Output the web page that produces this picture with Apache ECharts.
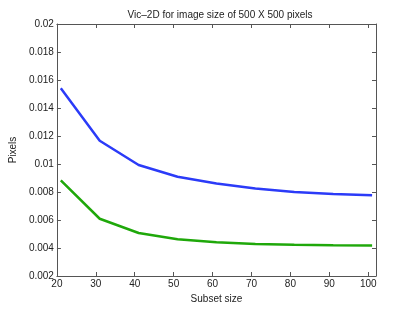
<!DOCTYPE html>
<html><head><meta charset="utf-8">
<script src="https://cdn.jsdelivr.net/npm/echarts@6/dist/echarts.min.js"></script>
<style>html,body{margin:0;padding:0;background:#fff}#c{width:415px;height:312px}</style>
</head><body><div id="c"></div>
<script>
const subsetSizes = [21, 31, 41, 51, 61, 71, 81, 91, 101];
const blueValues = [0.01541, 0.01166, 0.00993, 0.00909, 0.0086, 0.00825, 0.0080, 0.00786, 0.00777];
const greenValues = [0.00883, 0.00609, 0.00507, 0.00462, 0.00441, 0.00429, 0.00424, 0.00420, 0.00418];
const xTicks = [20, 30, 40, 50, 60, 70, 80, 90, 100];
const yTicks = [0.002, 0.004, 0.006, 0.008, 0.01, 0.012, 0.014, 0.016, 0.018, 0.02];

const font = 'Liberation Sans, Arial, sans-serif';
const axisLine = {show: true, lineStyle: {color: '#555', width: 1}};
const pairs = v => subsetSizes.map((x, i) => [x, v[i]]);
const chart = echarts.init(document.getElementById('c'), null, {renderer: 'canvas'});
chart.setOption({
  animation: false,
  backgroundColor: '#fff',
  title: {text: 'Vic\u20132D for image size of 500 X 500 pixels', left: 215, top: 5, textAlign: 'center',
    textStyle: {fontFamily: font, fontSize: 10, fontWeight: 'normal', color: '#222'}},
  grid: {left: 54, right: 39, top: 24, bottom: 36},
  xAxis: [{
    type: 'value', min: 20, max: 102, position: 'bottom',
    name: 'Subset size', nameLocation: 'middle', nameGap: 16,
    nameTextStyle: {fontFamily: font, fontSize: 10, color: '#222'},
    axisLine: axisLine, splitLine: {show: false},
    axisTick: {inside: true, length: 4, customValues: xTicks, lineStyle: {color: '#555'}},
    axisLabel: {customValues: xTicks, fontFamily: font, fontSize: 10, color: '#222', margin: 3}
  }, {
    type: 'value', min: 20, max: 102, position: 'top',
    axisLine: axisLine, splitLine: {show: false},
    axisTick: {inside: true, length: 4, customValues: xTicks, lineStyle: {color: '#555'}},
    axisLabel: {show: false}
  }],
  yAxis: [{
    type: 'value', min: 0.002, max: 0.02, position: 'left',
    name: 'Pixels', nameLocation: 'middle', nameGap: 34, nameRotate: 90,
    nameTextStyle: {fontFamily: font, fontSize: 10, color: '#222'},
    axisLine: axisLine, splitLine: {show: false},
    axisTick: {inside: true, length: 4, customValues: yTicks, lineStyle: {color: '#555'}},
    axisLabel: {customValues: yTicks, fontFamily: font, fontSize: 10, color: '#222', margin: 3,
      formatter: v => String(+v.toFixed(3))}
  }, {
    type: 'value', min: 0.002, max: 0.02, position: 'right',
    axisLine: axisLine, splitLine: {show: false},
    axisTick: {inside: true, length: 4, customValues: yTicks, lineStyle: {color: '#555'}},
    axisLabel: {show: false}
  }],
  series: [
    {type: 'line', data: pairs(blueValues), showSymbol: false, lineStyle: {color: '#2b3bf8', width: 2.5}, xAxisIndex: 0, yAxisIndex: 0},
    {type: 'line', data: pairs(greenValues), showSymbol: false, lineStyle: {color: '#1fa80a', width: 2.5}, xAxisIndex: 0, yAxisIndex: 0}
  ]
});
</script></body></html>
